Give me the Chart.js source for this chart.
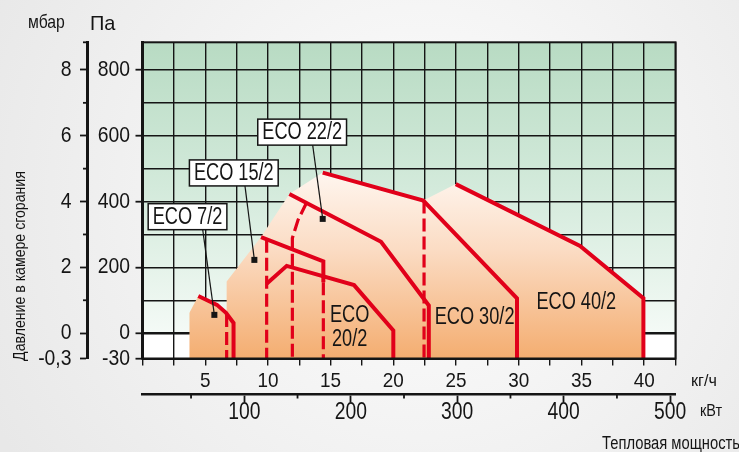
<!DOCTYPE html>
<html><head><meta charset="utf-8">
<script src="https://cdn.jsdelivr.net/npm/chart.js@4.4.1/dist/chart.umd.min.js"></script>
<style>html,body{margin:0;padding:0;background:#efefef;overflow:hidden}canvas{display:block}</style>
</head><body><canvas id="c" width="739" height="452"></canvas>
<script>
const RED = '#e1001a';
const FF = "'Liberation Sans', Arial, sans-serif";
const INK = '#151515';

// ---- axes ----
const kgMin = 0, kgMax = 42.5, kgStep = 2.5;
const kgTickLabels = [5, 10, 15, 20, 25, 30, 35, 40];
const paMax = 884;
const paBottom = -77;            // bottom edge of the compressed band labelled "-30"
const paTickMarks = [0, 100, 200, 300, 400, 500, 600, 700, 800];
const paTickLabels = [0, 200, 400, 600, 800];
const mbarTickMarks = [0, 1, 2, 3, 4, 5, 6, 7, 8];
const mbarTickLabels = [0, 2, 4, 6, 8];
const kwAxisMin = 4.4, kwAxisMax = 505;
const kwTickMarks = [50, 100, 150, 200, 250, 300, 350, 400, 450, 500];
const kwTickLabels = [100, 200, 300, 400, 500];
const B = paBottom;

// ---- series: [kg/h, Pa] ----
const envelope = [[3.73, 61], [4.45, 113], [5.94, 86], [6.66, 62], [6.71, 60], [6.71, 157], [9.45, 292], [11.71, 423], [14.37, 488], [22.39, 403], [24.98, 453], [34.89, 265], [39.94, 106], [39.94, B]];
const eco7Solid = [[4.45, 113], [5.94, 86], [6.66, 62], [7.26, 31], [7.26, B]];
const eco7Dash = [[6.71, 58], [6.71, B]];
const eco15Solid = [[9.45, 292], [14.42, 218], [14.42, 155]];
const eco15DashA = [[9.9, 284], [9.9, B]];
const eco15DashB = [[14.42, 155], [14.42, B]];
const eco20Solid = [[9.9, 150], [11.5, 204.5], [16.87, 146], [20.0, 8], [20.0, B]];
const eco22Solid = [[11.71, 423], [19.02, 278], [22.83, 84], [22.83, B]];
const eco22Dash = [[13.09, 397], [12.4, 344], [11.95, 289], [11.95, B]];
const eco30Solid = [[14.37, 488], [22.39, 403], [29.86, 106], [29.86, B]];
const eco30Dash = [[22.45, 403], [22.45, B]];
const eco40Solid = [[24.98, 453], [34.89, 265], [39.94, 106], [39.94, B]];

// ---- annotations (data coords) ----
const callouts = [
  { text: 'ECO 7/2', box: [3.59, 354], mark: [5.73, 55.6], lead: 4.8 },
  { text: 'ECO 15/2', box: [7.28, 487], mark: [8.92, 222.7], lead: 8.17 },
  { text: 'ECO 22/2', box: [12.73, 611], mark: [14.37, 347.3], lead: 13.57 }
];
const fieldLabels = [
  { lines: ['ECO', '20/2'], at: [16.52, 16] },
  { lines: ['ECO 30/2'], at: [26.48, 46.5] },
  { lines: ['ECO 40/2'], at: [34.59, 92.7] }
];

const paLabel = v => v === paBottom ? '-30' : (paTickLabels.includes(v) ? String(v) : '');
const mbarLabel = v => v === paBottom / 100 ? '-0,3' : (mbarTickLabels.includes(v) ? String(v) : '');
const kgLabel = v => kgTickLabels.includes(v) ? String(v) : '';
const kwLabel = v => kwTickLabels.includes(v) ? String(v) : '';

const xy = a => a.map(([x, y]) => ({ x, y }));
const solid = a => ({ data: xy(a), borderColor: RED, borderWidth: 4, fill: false, pointRadius: 0, tension: 0, borderJoinStyle: 'miter', borderCapStyle: 'butt', order: 1 });
const dashed = a => ({ data: xy(a), borderColor: RED, borderWidth: 3.2, borderDash: [13, 5], fill: false, pointRadius: 0, tension: 0, borderCapStyle: 'butt', order: 1 });

const datasets = [
  { data: xy(envelope), fill: 'start', borderWidth: 0, pointRadius: 0, tension: 0, order: 10,
    backgroundColor(ctx) {
      const ch = ctx.chart, a = ch.chartArea;
      if (!a) return '#f8c9a0';
      const g = ch.ctx.createLinearGradient(0, 160, 0, a.bottom);
      g.addColorStop(0, '#fffaf6');
      g.addColorStop(0.45, '#fbdcc4');
      g.addColorStop(1, '#f4ad70');
      return g;
    } },
  dashed(eco7Dash), solid(eco7Solid),
  dashed(eco15DashA), dashed(eco15DashB), solid(eco15Solid),
  solid(eco20Solid),
  dashed(eco22Dash), solid(eco22Solid),
  dashed(eco30Dash), solid(eco30Solid),
  solid(eco40Solid)
];

// condensed text helper: real text, horizontally compressed
function txt(ctx, t, x, y, size, sx, align, baseline) {
  ctx.save();
  ctx.font = `${size}px ${FF}`;
  ctx.textAlign = align || 'left';
  ctx.textBaseline = baseline || 'alphabetic';
  ctx.translate(x, y); ctx.scale(sx, 1);
  ctx.fillText(t, 0, 0);
  ctx.restore();
}
function txtW(ctx, t, size, sx) {
  ctx.save(); ctx.font = `${size}px ${FF}`;
  const w = ctx.measureText(t).width * sx; ctx.restore(); return w;
}

const deco = {
  id: 'deco',
  beforeDraw(chart) {
    const { ctx, chartArea: a, scales } = chart;
    ctx.save();
    const rg = ctx.createRadialGradient(420, 200, 60, 420, 200, 480);
    rg.addColorStop(0, '#fbfbfb'); rg.addColorStop(1, '#e8e8e8');
    ctx.fillStyle = rg; ctx.fillRect(0, 0, chart.width, chart.height);
    const y0 = scales.y.getPixelForValue(0);
    const lg = ctx.createLinearGradient(0, a.top, 0, y0);
    lg.addColorStop(0, '#b8dbc3'); lg.addColorStop(0.5, '#d3eadb'); lg.addColorStop(1, '#f4faf6');
    ctx.fillStyle = lg; ctx.fillRect(a.left, a.top, a.width, y0 - a.top);
    ctx.fillStyle = '#ffffff'; ctx.fillRect(a.left, y0, a.width, a.bottom - y0);
    ctx.restore();
  },
  afterDatasetsDraw(chart) {
    const { ctx, chartArea: a } = chart;
    ctx.save();
    ctx.strokeStyle = INK; ctx.lineWidth = 2;
    ctx.strokeRect(a.left, a.top, a.width, a.height);
    ctx.lineWidth = 3;
    ctx.beginPath(); ctx.moveTo(a.left, a.top - 1); ctx.lineTo(a.left, a.bottom + 1); ctx.stroke();
    ctx.restore();
  },
  afterDraw(chart) {
    const { ctx, scales } = chart;
    const sx = scales.x, sy = scales.y, y2 = scales.y2, x2 = scales.x2;
    ctx.save();
    ctx.strokeStyle = INK; ctx.fillStyle = INK;
    // minor ticks
    ctx.lineWidth = 1.8;
    mbarTickMarks.filter(v => !mbarTickLabels.includes(v)).concat([paMax / 100]).forEach(v => {
      const p = y2.getPixelForValue(v);
      ctx.beginPath(); ctx.moveTo(y2.right - 4, p); ctx.lineTo(y2.right, p); ctx.stroke();
    });
    kwTickMarks.filter(v => !kwTickLabels.includes(v)).forEach(v => {
      const p = x2.getPixelForValue(v);
      ctx.beginPath(); ctx.moveTo(p, x2.top); ctx.lineTo(p, x2.top + 4); ctx.stroke();
    });
    // tick labels from the scales
    sy.ticks.forEach(t => { const l = paLabel(t.value); if (l) txt(ctx, l, sy.right - 12.5, sy.getPixelForValue(t.value), 22, 0.88, 'right', 'middle'); });
    y2.ticks.forEach(t => { const l = mbarLabel(t.value); if (l) txt(ctx, l, y2.right - 15.5, y2.getPixelForValue(t.value), 22, 0.88, 'right', 'middle'); });
    sx.ticks.forEach(t => { const l = kgLabel(t.value); if (l) txt(ctx, l, sx.getPixelForValue(t.value), sx.top + 22.5, 21, 0.9, 'center', 'middle'); });
    x2.ticks.forEach(t => { const l = kwLabel(t.value); if (l) txt(ctx, l, x2.getPixelForValue(t.value), x2.top + 18.5, 23, 0.84, 'center', 'middle'); });
    // callouts
    callouts.forEach(c => {
      const bx = sx.getPixelForValue(c.box[0]), by = sy.getPixelForValue(c.box[1]);
      const mx = sx.getPixelForValue(c.mark[0]), my = sy.getPixelForValue(c.mark[1]);
      const lx = sx.getPixelForValue(c.lead);
      const w = txtW(ctx, c.text, 23, 0.79) + 9, h = 26;
      ctx.lineWidth = 1.2;
      ctx.beginPath(); ctx.moveTo(lx, by + h / 2); ctx.lineTo(mx, my); ctx.stroke();
      ctx.fillRect(mx - 3, my - 3, 6, 6);
      ctx.fillStyle = '#fff'; ctx.fillRect(bx - w / 2, by - h / 2, w, h);
      ctx.lineWidth = 1.5; ctx.strokeRect(bx - w / 2, by - h / 2, w, h);
      ctx.fillStyle = INK;
      txt(ctx, c.text, bx, by + 1, 23, 0.79, 'center', 'middle');
    });
    fieldLabels.forEach(f => {
      const cx = sx.getPixelForValue(f.at[0]), cy = sy.getPixelForValue(f.at[1]);
      const n = f.lines.length;
      f.lines.forEach((t, i) => txt(ctx, t, cx, cy + (i - (n - 1) / 2) * 24, 23, 0.79, 'center', 'middle'));
    });
    // axis captions
    txt(ctx, 'мбар', 28, 28, 19, 0.83, 'left');
    txt(ctx, 'Па', 90, 30, 21, 0.95, 'left');
    txt(ctx, 'кг/ч', 691, 386, 17, 0.95, 'left');
    txt(ctx, 'кВт', 700, 416, 17, 0.85, 'left');
    txt(ctx, 'Тепловая мощность', 602, 449, 18, 0.82, 'left');
    ctx.translate(20, 266); ctx.rotate(-Math.PI / 2);
    txt(ctx, 'Давление в камере сгорания', 0, 0, 17, 0.83, 'center', 'middle');
    ctx.restore();
  }
};

new Chart(document.getElementById('c'), {
  type: 'line',
  data: { datasets },
  plugins: [deco],
  options: {
    responsive: false, animation: false,
    layout: { padding: { left: 0, right: 63.5, top: 42.3, bottom: 0 } },
    plugins: { legend: { display: false }, tooltip: { enabled: false } },
    scales: {
      x: {
        type: 'linear', position: 'bottom', min: kgMin, max: kgMax,
        ticks: { display: false, stepSize: kgStep, autoSkip: false, callback: kgLabel },
        grid: { color: INK, lineWidth: 1.4, tickLength: 7, tickColor: INK },
        border: { display: true, color: INK, width: 2 },
        afterFit: s => { s.height = 36; }
      },
      x2: {
        type: 'linear', position: 'bottom', min: kwAxisMin, max: kwAxisMax,
        afterBuildTicks: s => { s.ticks = kwTickMarks.map(v => ({ value: v })); },
        ticks: { display: false, autoSkip: false, callback: kwLabel },
        grid: { drawOnChartArea: false, tickLength: 8, tickWidth: 1.8,
          tickColor: c => kwTickLabels.includes(c.tick && c.tick.value) ? INK : 'rgba(0,0,0,0)' },
        border: { display: true, color: INK, width: 2.6 },
        afterFit: s => { s.height = 57.5; }
      },
      y: {
        type: 'linear', position: 'left', min: paBottom, max: paMax, weight: 0,
        afterBuildTicks: s => { s.ticks = [paBottom].concat(paTickMarks).map(v => ({ value: v })); },
        ticks: { display: false, autoSkip: false, callback: paLabel },
        grid: { color: INK, tickLength: 7, tickWidth: 1.8,
          lineWidth: c => (c.tick && c.tick.value === 0) ? 2.6 : 1.4,
          tickColor: c => (c.tick && paLabel(c.tick.value)) ? INK : 'rgba(0,0,0,0)' },
        border: { display: true, color: INK, width: 3 },
        afterFit: s => { s.width = 55.5; }
      },
      y2: {
        type: 'linear', position: 'left', min: paBottom / 100, max: paMax / 100, weight: 1,
        afterBuildTicks: s => { s.ticks = [paBottom / 100].concat(mbarTickMarks).map(v => ({ value: v })); },
        ticks: { display: false, autoSkip: false, callback: mbarLabel },
        grid: { drawOnChartArea: false, tickLength: 7, tickWidth: 1.8,
          tickColor: c => (c.tick && mbarLabel(c.tick.value)) ? INK : 'rgba(0,0,0,0)' },
        border: { display: true, color: INK, width: 3 },
        afterFit: s => { s.width = 87; }
      }
    }
  }
});
</script></body></html>
